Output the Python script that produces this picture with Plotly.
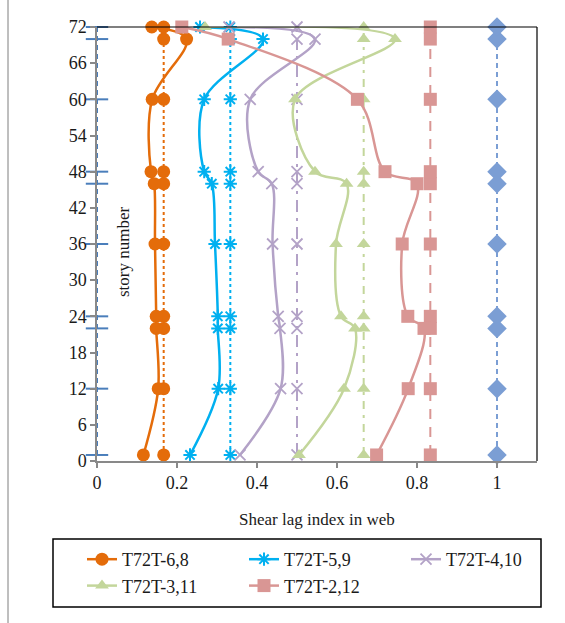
import plotly.graph_objects as go

# ---- data ----
stories = [1, 12, 22, 24, 36, 46, 48, 60, 70, 72]

t68 = [0.116, 0.153, 0.148, 0.148, 0.145, 0.143, 0.135, 0.138, 0.224, 0.137]
t59 = [0.2325, 0.303, 0.302, 0.302, 0.295, 0.287, 0.268, 0.268, 0.415, 0.2575]
t410 = [0.3575, 0.459, 0.4575, 0.453, 0.439, 0.437, 0.403, 0.383, 0.545, 0.33]
t311 = [0.505, 0.6175, 0.645, 0.61, 0.5975, 0.624, 0.545, 0.495, 0.745, 0.27]
t212 = [0.699, 0.778, 0.8175, 0.777, 0.763, 0.80, 0.72, 0.651, 0.328, 0.212]

ref0 = [0, 0, 0, 0, 0, 0, 0, 0, 0, 0]
ref68 = [0.1667, 0.1667, 0.1667, 0.1667, 0.1667, 0.1667, 0.1667, 0.1667, 0.1667, 0.1667]
ref59 = [0.3333, 0.3333, 0.3333, 0.3333, 0.3333, 0.3333, 0.3333, 0.3333, 0.3333, 0.3333]
ref410 = [0.5, 0.5, 0.5, 0.5, 0.5, 0.5, 0.5, 0.5, 0.5, 0.5]
ref311 = [0.6667, 0.6667, 0.6667, 0.6667, 0.6667, 0.6667, 0.6667, 0.6667, 0.6667, 0.6667]
ref212 = [0.8333, 0.8333, 0.8333, 0.8333, 0.8333, 0.8333, 0.8333, 0.8333, 0.8333, 0.8333]
ref1 = [1, 1, 1, 1, 1, 1, 1, 1, 1, 1]

names = ["T72T-6,8", "T72T-5,9", "T72T-4,10", "T72T-3,11", "T72T-2,12"]
x_ticks = [0, 0.2, 0.4, 0.6, 0.8, 1]
x_ticklabels = ["0", "0.2", "0.4", "0.6", "0.8", "1"]
y_ticks = [0, 6, 12, 18, 24, 30, 36, 42, 48, 54, 60, 66, 72]

FONT = "Liberation Serif, Times New Roman, serif"
C_OR = "#E46C0A"
C_BL = "#00B0F0"
C_PU = "#B3A2C7"
C_GR = "#C3D69B"
C_PK = "#D99694"
C_AX = "#4A7EBB"
C_DI = "#7B9ED4"

fig = go.Figure()

def ref_trace(x, color, dash, symbol, size, mlw=0, width=2):
    fig.add_trace(go.Scatter(
        x=x, y=stories, mode="lines+markers", showlegend=False, cliponaxis=False,
        line=dict(color=color, width=width, dash=dash),
        marker=dict(symbol=symbol, size=size, color=color, line=dict(color=color, width=mlw)),
    ))

def main_trace(x, name, color, symbol, size, mlw=0):
    fig.add_trace(go.Scatter(
        x=x, y=stories, mode="lines+markers", name=name, cliponaxis=False,
        line=dict(color=color, width=2.5, shape="spline", smoothing=1.0),
        marker=dict(symbol=symbol, size=size, color=color, line=dict(color=color, width=mlw)),
    ))

# axis-side series at x=0 and x=1
ref_trace(ref0, C_AX, "5px,4px", "line-ew", 16, mlw=2)
ref_trace(ref1, C_DI, "5px,4px", "diamond", 15)

# reference (uniform) lines
ref_trace(ref68, C_OR, "dot", "circle", 13)
ref_trace(ref59, C_BL, "dot", "asterisk-open", 11, mlw=2)
ref_trace(ref410, C_PU, "12px,6px,3px,6px", "x-thin-open", 11, mlw=1.8)
ref_trace(ref311, C_GR, "8px,6px,3px,6px", "triangle-up", 12)
ref_trace(ref212, C_PK, "10px,8px", "square", 13)

# main curves
main_trace(t68, names[0], C_OR, "circle", 13)
main_trace(t59, names[1], C_BL, "asterisk-open", 11, mlw=2)
main_trace(t410, names[2], C_PU, "x-thin-open", 11, mlw=1.8)
main_trace(t311, names[3], C_GR, "triangle-up", 12)
main_trace(t212, names[4], C_PK, "square", 13)

W, H = 565, 623
L, R, T, B = 97, 28, 27, 162
pw, ph = W - L - R, H - T - B

def px_x(p):
    return (p - L) / pw

def px_y(p):
    return (H - B - p) / ph

fig.update_layout(
    width=W, height=H,
    margin=dict(l=L, r=R, t=T, b=B, autoexpand=False),
    paper_bgcolor="white", plot_bgcolor="white",
    font=dict(family=FONT, size=17, color="black"),
    xaxis=dict(
        range=[0, 1.1], tickvals=x_ticks, ticktext=x_ticklabels,
        showgrid=False, zeroline=False, showline=True, linecolor="#898989", linewidth=1.5,
        ticks="outside", ticklen=5, tickcolor="#898989", tickwidth=1.5,
        tickfont=dict(family=FONT, size=18, color="#1a1a1a"),
    ),
    yaxis=dict(
        range=[0, 72], tickvals=y_ticks,
        showgrid=False, zeroline=False, showline=True, linecolor="#898989", linewidth=1.5,
        ticks="outside", ticklen=5, tickcolor="#898989", tickwidth=1.5,
        tickfont=dict(family=FONT, size=18, color="#1a1a1a"),
    ),
    legend=dict(
        orientation="h", x=px_x(82), y=px_y(541), xanchor="left", yanchor="top",
        entrywidth=117, entrywidthmode="pixels",
        borderwidth=0, bgcolor="rgba(0,0,0,0)",
        font=dict(family=FONT, size=18, color="#1a1a1a"),
    ),
    shapes=[
        dict(type="line", xref="paper", yref="paper", x0=0, x1=1, y0=1, y1=1,
             line=dict(color="black", width=1.2)),
        dict(type="line", xref="paper", yref="paper", x0=1, x1=1, y0=0, y1=1,
             line=dict(color="black", width=1.2)),
        dict(type="line", xref="paper", yref="paper", x0=px_x(8), x1=px_x(8),
             y0=px_y(0), y1=px_y(623), line=dict(color="#7f7f7f", width=1)),
        dict(type="rect", xref="paper", yref="paper", x0=px_x(53), x1=px_x(541),
             y0=px_y(607), y1=px_y(539), line=dict(color="black", width=1.5)),
    ],
    annotations=[
        dict(text="Shear lag index in web", xref="paper", yref="paper",
             x=0.5, y=px_y(519), xanchor="center", yanchor="middle", showarrow=False,
             font=dict(family=FONT, size=17, color="#1a1a1a")),
        dict(text="story number", xref="paper", yref="paper", textangle=-90,
             x=px_x(124), y=px_y(252), xanchor="center", yanchor="middle", showarrow=False,
             font=dict(family=FONT, size=17, color="#1a1a1a")),
    ],
)

fig.write_html("out.html")
